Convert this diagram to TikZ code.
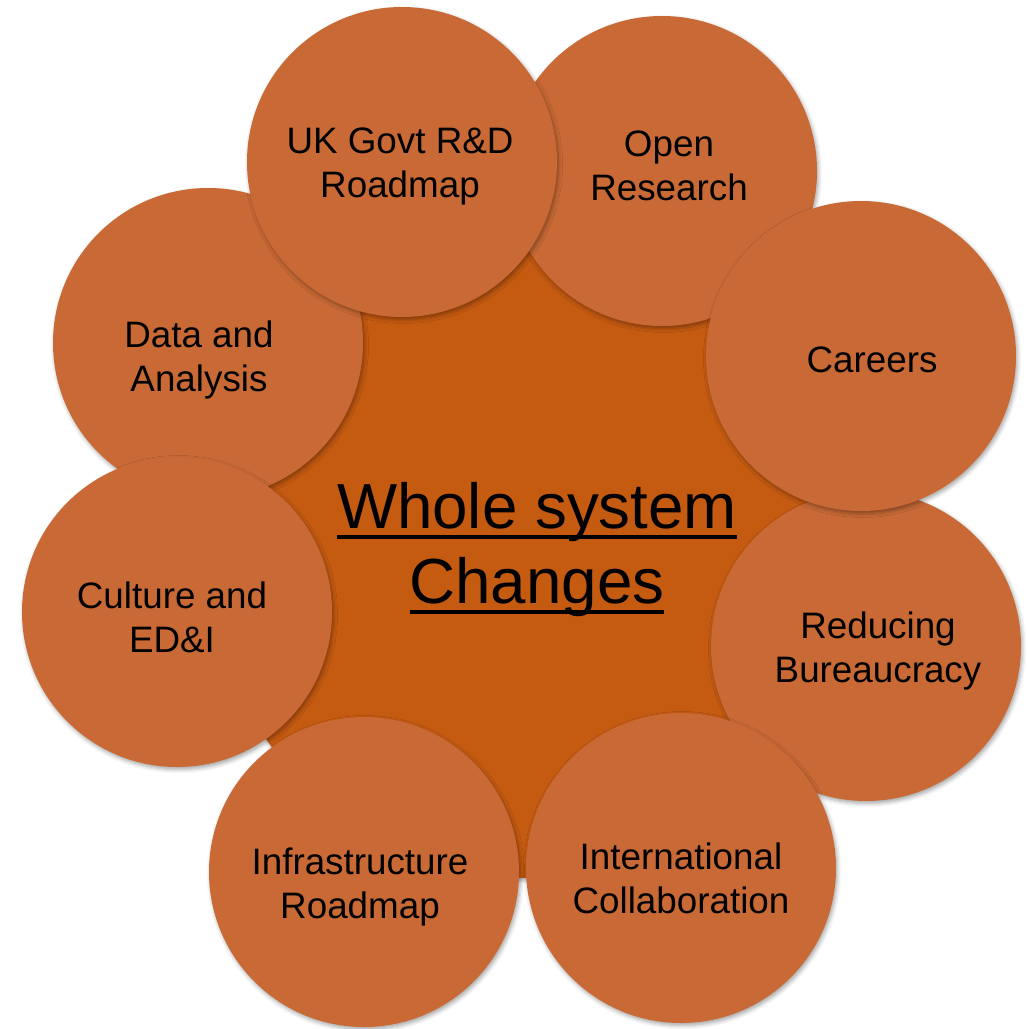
\documentclass[tikz,border=0pt]{standalone}
\usepackage{fontspec}
\setmainfont{Liberation Sans}
\usetikzlibrary{calc,shadows.blur}
\definecolor{hubfill}{HTML}{C55A11}
\definecolor{bubfill}{HTML}{C96A36}
\newcommand\ulined[1]{\setbox0\hbox{#1}\rlap{\rule[-11pt]{\wd0}{4pt}}\box0}

\begin{document}
\begin{tikzpicture}[x=1pt,y=-1pt,
		softshadow/.style={blur shadow={shadow xshift=1.5pt,shadow yshift=-2.5pt,shadow blur radius=4pt,shadow opacity=35}},
		hub/.style={circle,fill=hubfill,minimum size=640pt,inner sep=0pt,softshadow},
		bubble/.style={circle,fill=bubfill,minimum size=310pt,inner sep=0pt,softshadow},
		bubtext/.style={align=center,anchor=base,inner sep=0pt,font=\fontsize{36.8}{44}\selectfont},
		hubtext/.style={align=center,anchor=base,inner sep=0pt,font=\fontsize{63.7}{75}\selectfont}]
				\useasboundingbox (0,0) rectangle (1028,1029);
				\node[hub] (hub) at (530,558) {};
				% ring, back ones first
				\node[bubble] (data) at (208,343) {};
				\node[bubble] (open) at (662,171) {};
				\node[bubble] (bureau) at (866,646) {};
				\node[bubble] (ukgovt) at (402,162) {};
				\node[bubble] (careers) at (861,356) {};
				\node[bubble] (intl) at (681,868) {};
				\node[bubble] (culture) at (177,612) {};
				\node[bubble] (infra) at (364,872) {};
				% labels (base = last line)
				\node[hubtext] (hub-t) at ($(hub)+(7,45)$) {\ulined{Whole system}\\\ulined{Changes}};
				\node[bubtext] (ukgovt-t) at ($(ukgovt)+(-2,35)$) {UK Govt R\&D\\Roadmap};
				\node[bubtext] (open-t) at ($(open)+(7,29)$) {Open\\Research};
				\node[bubtext] (careers-t) at ($(careers)+(11,16)$) {Careers};
				\node[bubtext] (bureau-t) at ($(bureau)+(12,36)$) {Reducing\\Bureaucracy};
				\node[bubtext] (intl-t) at ($(intl)+(0,45)$) {International\\Collaboration};
				\node[bubtext] (infra-t) at ($(infra)+(-4,46)$) {Infrastructure\\Roadmap};
				\node[bubtext] (culture-t) at ($(culture)+(-5,40)$) {Culture and\\ED\&I};
				\node[bubtext] (data-t) at ($(data)+(-9,48)$) {Data and\\Analysis};
\end{tikzpicture}
\end{document}
